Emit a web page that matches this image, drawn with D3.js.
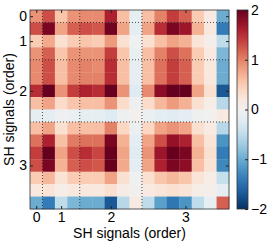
<!DOCTYPE html>
<html>
<head>
<meta charset="utf-8">
<script src="https://cdn.jsdelivr.net/npm/d3@7"></script>
<style>
body { margin: 0; background: #fff; }
text { font-family: "Liberation Sans", Arial, sans-serif; }
</style>
</head>
<body>
<div id="chart"></div>
<script>
var W = 269, H = 241;

// SH orders: labels, centre positions (in cells) and group boundaries
var orderLabels = ['0', '1', '2', '3'];
var orderCenters = [0.5, 2.5, 6.5, 12.5];
var orderBounds = [1, 4, 9];
var cbTicks = [2, 1, 0, -1, -2];

// 16x16 matrix (rows top to bottom)
var values = [
  [0.9, 1.3, 0.55, 0.9, 0.95, 0.95, 1.6, 0.6, -0.15, 0.6, 1.0, 1.4, 1.2, 0.5, 0.15, -1.0],
  [1.3, 1.9, 0.8, 1.2, 1.3, 1.25, 1.95, 0.8, -0.2, 0.8, 1.5, 1.9, 1.7, 0.7, 0.2, -1.4],
  [0.5, 0.75, 0.3, 0.5, 0.55, 0.5, 0.85, 0.3, -0.05, 0.3, 0.6, 0.8, 0.7, 0.25, 0.08, -0.5],
  [0.9, 1.2, 0.55, 0.9, 0.9, 0.9, 1.4, 0.55, -0.12, 0.6, 1.0, 1.3, 1.1, 0.5, 0.18, -0.9],
  [0.95, 1.3, 0.6, 0.95, 1.0, 0.95, 1.5, 0.6, -0.15, 0.6, 1.1, 1.4, 1.2, 0.5, 0.2, -1.0],
  [0.95, 1.3, 0.6, 0.95, 1.0, 1.0, 1.5, 0.6, -0.15, 0.6, 1.1, 1.4, 1.2, 0.5, 0.2, -1.0],
  [1.5, 2.0, 0.9, 1.4, 1.6, 1.5, 2.1, 0.9, -0.25, 0.95, 1.8, 2.0, 2.0, 0.8, 0.3, -1.7],
  [0.6, 0.8, 0.35, 0.55, 0.6, 0.6, 0.9, 0.35, -0.08, 0.35, 0.65, 0.85, 0.7, 0.3, 0.1, -0.55],
  [-0.15, -0.2, -0.08, -0.12, -0.15, -0.15, -0.25, -0.08, 0.03, -0.1, -0.2, -0.22, -0.2, -0.06, -0.02, 0.18],
  [0.6, 0.8, 0.3, 0.6, 0.6, 0.6, 1.0, 0.4, -0.1, 0.4, 0.8, 0.9, 0.8, 0.3, 0.15, -0.55],
  [1.1, 1.6, 0.6, 1.05, 1.1, 1.1, 1.9, 0.7, -0.2, 0.8, 1.3, 1.75, 1.6, 0.6, 0.25, -1.2],
  [1.4, 2.0, 0.8, 1.3, 1.5, 1.35, 2.1, 0.8, -0.22, 0.9, 1.7, 2.1, 1.9, 0.7, 0.3, -1.4],
  [1.3, 1.9, 0.7, 1.2, 1.3, 1.25, 2.0, 0.75, -0.2, 0.8, 1.6, 1.9, 1.8, 0.6, 0.28, -1.3],
  [0.5, 0.65, 0.28, 0.5, 0.5, 0.5, 0.8, 0.3, -0.05, 0.3, 0.55, 0.65, 0.55, 0.25, 0.1, -0.45],
  [0.2, 0.25, 0.1, 0.2, 0.2, 0.2, 0.3, 0.12, -0.01, 0.15, 0.25, 0.3, 0.25, 0.1, 0.05, -0.18],
  [-1.0, -1.4, -0.5, -0.9, -1.0, -1.0, -1.7, -0.55, 0.15, -0.5, -1.1, -1.45, -1.2, -0.5, -0.15, 1.2]
];

var n = values.length;
var px0 = 30, px1 = 229, py0 = 10, py1 = 209;
var cbx0 = 237, cbx1 = 248;

var x = d3.scaleLinear().domain([0, n]).range([px0, px1]);
var y = d3.scaleLinear().domain([0, n]).range([py0, py1]);
var color = d3.scaleSequential(function(t) { return d3.interpolateRdBu(1 - t); })
  .domain([-2, 2]).clamp(true);
var cb = d3.scaleLinear().domain([-2, 2]).range([py1, py0]);

var svg = d3.select('#chart').append('svg')
  .attr('width', W)
  .attr('height', H);

// cells
var cells = [];
values.forEach(function(row, i) {
  row.forEach(function(v, j) { cells.push({ r: i, c: j, v: v }); });
});

svg.append('g').selectAll('rect')
  .data(cells)
  .enter().append('rect')
  .attr('x', function(d) { return x(d.c); })
  .attr('y', function(d) { return y(d.r); })
  .attr('width', x(1) - x(0) + 0.3)
  .attr('height', y(1) - y(0) + 0.3)
  .attr('fill', function(d) { return color(d.v); });

// dotted order boundaries
var grid = svg.append('g')
  .attr('stroke', '#222')
  .attr('stroke-width', 0.8)
  .attr('stroke-dasharray', '1,2');
grid.selectAll('.vl').data(orderBounds).enter().append('line')
  .attr('x1', function(d) { return x(d); }).attr('x2', function(d) { return x(d); })
  .attr('y1', py0).attr('y2', py1);
grid.selectAll('.hl').data(orderBounds).enter().append('line')
  .attr('y1', function(d) { return y(d); }).attr('y2', function(d) { return y(d); })
  .attr('x1', px0).attr('x2', px1);

// axes
function styleAxis(g) {
  g.select('.domain').remove();
  g.selectAll('.tick line').attr('stroke', '#222');
  g.selectAll('text').attr('font-size', 14).attr('fill', '#000')
    .style('font-family', '"Liberation Sans", Arial, sans-serif');
}

var fmt = function(d, i) { return orderLabels[i]; };

svg.append('g').attr('transform', 'translate(0,' + py1 + ')')
  .call(d3.axisBottom(x).tickValues(orderCenters).tickFormat(fmt)
    .tickSizeInner(-3).tickSizeOuter(0).tickPadding(3))
  .call(styleAxis);
svg.append('g').attr('transform', 'translate(' + px0 + ',0)')
  .call(d3.axisLeft(y).tickValues(orderCenters).tickFormat(fmt)
    .tickSizeInner(-3).tickSizeOuter(0).tickPadding(3))
  .call(styleAxis);
svg.append('g').attr('transform', 'translate(0,' + py0 + ')')
  .call(d3.axisTop(x).tickValues(orderCenters).tickFormat('')
    .tickSizeInner(-3).tickSizeOuter(0))
  .call(styleAxis);
svg.append('g').attr('transform', 'translate(' + px1 + ',0)')
  .call(d3.axisRight(y).tickValues(orderCenters).tickFormat('')
    .tickSizeInner(-3).tickSizeOuter(0))
  .call(styleAxis);

svg.append('rect')
  .attr('x', px0).attr('y', py0)
  .attr('width', px1 - px0).attr('height', py1 - py0)
  .attr('fill', 'none').attr('stroke', '#333').attr('stroke-width', 0.8);

// axis titles
svg.append('text')
  .attr('x', (px0 + px1) / 2).attr('y', 238)
  .attr('text-anchor', 'middle').attr('font-size', 14)
  .text('SH signals (order)');
svg.append('text')
  .attr('transform', 'translate(14,' + (py0 + py1) / 2 + ') rotate(-90)')
  .attr('text-anchor', 'middle').attr('font-size', 14)
  .text('SH signals (order)');

// colorbar
var defs = svg.append('defs');
var grad = defs.append('linearGradient').attr('id', 'cbgrad')
  .attr('x1', 0).attr('y1', 1).attr('x2', 0).attr('y2', 0);
d3.range(0, 1.0001, 0.05).forEach(function(t) {
  grad.append('stop').attr('offset', t).attr('stop-color', color(-2 + 4 * t));
});
svg.append('rect')
  .attr('x', cbx0).attr('y', py0)
  .attr('width', cbx1 - cbx0).attr('height', py1 - py0)
  .attr('fill', 'url(#cbgrad)')
  .attr('stroke', '#333').attr('stroke-width', 0.8);

svg.append('g').attr('transform', 'translate(' + cbx1 + ',0)')
  .call(d3.axisRight(cb).tickValues(cbTicks).tickFormat(d3.format('d'))
    .tickSizeInner(-3).tickSizeOuter(0).tickPadding(3))
  .call(styleAxis);
</script>
</body>
</html>
